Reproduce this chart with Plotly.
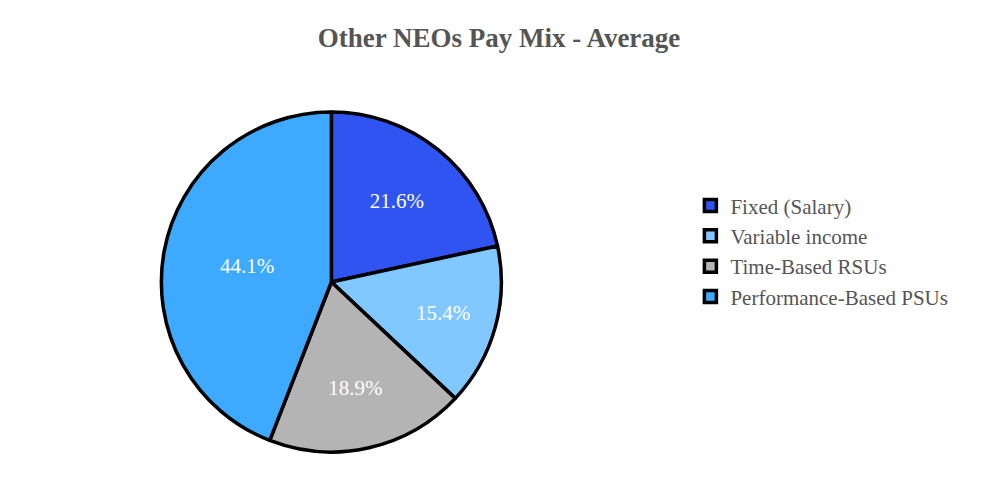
import plotly.graph_objects as go

labels = ["Fixed (Salary)", "Variable income", "Time-Based RSUs", "Performance-Based PSUs"]
values = [21.6, 15.4, 18.9, 44.1]
colors = ["#3054F2", "#80C8FF", "#B4B4B4", "#3DAAFF"]

fig = go.Figure(go.Pie(
    labels=labels,
    values=values,
    sort=False,
    direction="clockwise",
    rotation=0,
    marker=dict(colors=colors, line=dict(color="black", width=3.5)),
    textinfo="percent",
    texttemplate="%{percent:.1%}",
    textposition="inside",
    insidetextorientation="horizontal",
    textfont=dict(family="Liberation Serif, Times New Roman, serif", size=21, color="white"),
    domain=dict(x=[0, 0.632], y=[0, 1]),
))

fig.update_layout(
    width=1000, height=500,
    paper_bgcolor="white",
    plot_bgcolor="white",
    margin=dict(l=20, r=20, t=104, b=56),
    font=dict(family="Liberation Serif, Times New Roman, serif", color="#555555"),
    title=dict(text="<b>Other NEOs Pay Mix - Average</b>", x=0.491, xanchor="center",
               y=0.94, yanchor="middle",
               font=dict(size=27, color="#555555", family="Liberation Serif, Times New Roman, serif")),
    legend=dict(x=0.69, y=0.59, xanchor="left", yanchor="middle",
                font=dict(size=21, color="#555555"), tracegroupgap=0),
    showlegend=True,
)

fig.write_html("out.html")
